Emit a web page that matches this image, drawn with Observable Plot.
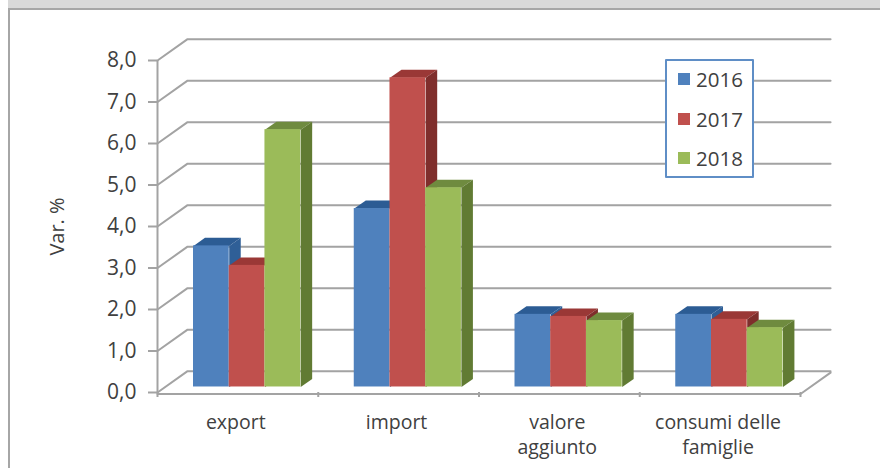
<!DOCTYPE html>
<html lang="it">
<head>
<meta charset="utf-8">
<script src="https://cdn.jsdelivr.net/npm/d3@7"></script>
<script src="https://cdn.jsdelivr.net/npm/@observablehq/plot@0.6"></script>
<style>
  html, body { margin: 0; padding: 0; background: #fff; }
  body { position: relative; width: 880px; height: 468px; overflow: hidden; font-family: "Open Sans", sans-serif; }
  #band { position: absolute; left: 8px; right: 0; top: 0; height: 8px; background: #d9d9d9; }
  #frame { position: absolute; left: 8px; right: -4px; top: 8px; bottom: -4px; border: 2px solid #a6a6a6; box-sizing: border-box; }
  #chart { position: absolute; left: 0; top: 0; }
  #legend { position: absolute; left: 665px; top: 59px; width: 89px; height: 119px; box-sizing: border-box; background: #fff; border: 2px solid #5f8ec6; border-radius: 1px; }
  .entry { position: absolute; left: 11px; display: flex; align-items: center; height: 24px; color: #404040; font-size: 20.5px; }
  .entry i { display: block; width: 12px; height: 12px; margin-right: 6px; }
</style>
</head>
<body>
<div id="band"></div>
<div id="frame"></div>
<div id="chart"></div>
<div id="legend"></div>
<script>
const categories = ["export", "import", "valore\naggiunto", "consumi delle\nfamiglie"];
const years = [2016, 2017, 2018];
const values2016 = [3.4, 4.3, 1.75, 1.75];
const values2017 = [2.93, 7.45, 1.7, 1.63];
const values2018 = [6.2, 4.8, 1.6, 1.43];
const seriesValues = [values2016, values2017, values2018];
const frontColors = ["#4f81bd", "#c0504d", "#9bbb59"];
const topColors = ["#2c5c94", "#9a3836", "#6f8b3f"];
const sideColors = ["#2f5f97", "#7f2e2c", "#617b33"];
const yTicks = [0, 1, 2, 3, 4, 5, 6, 7, 8];
const gridColor = "#a3a3a3";
const textColor = "#404040";

// Depth of the chart floor and of the bars, in units of each scale.
const wallDepthX = 0.187, wallDepthY = 0.514;
const barDepthX = 0.0715, barDepthY = 0.193;
const barLift = 0.133, barStart = 0.224, barWidth = 0.2222;

// Back wall: each gridline runs from the axis up to the wall, then across it.
const wallLines = yTicks.flatMap((t) => [
  {t, x: 0, y: t},
  {t, x: wallDepthX, y: t + wallDepthY},
  {t, x: categories.length + wallDepthX, y: t + wallDepthY}
]);
const floorEdge = [
  {x: 0, y: 0},
  {x: categories.length, y: 0},
  {x: categories.length + wallDepthX, y: wallDepthY}
];

const bars = seriesValues.flatMap((values, s) => values.map((v, c) => {
  const x1 = c + barStart + s * barWidth;
  return {series: s, x1, x2: x1 + barWidth, y1: barLift, y2: barLift + v};
}));

// Top and right faces of a bar as closed polygons.
const faces = (b, s) => [
  {id: `t${b.x1}`, fill: topColors[s], x: b.x1, y: b.y2},
  {id: `t${b.x1}`, fill: topColors[s], x: b.x2, y: b.y2},
  {id: `t${b.x1}`, fill: topColors[s], x: b.x2 + barDepthX, y: b.y2 + barDepthY},
  {id: `t${b.x1}`, fill: topColors[s], x: b.x1 + barDepthX, y: b.y2 + barDepthY},
  {id: `s${b.x1}`, fill: sideColors[s], x: b.x2, y: b.y1},
  {id: `s${b.x1}`, fill: sideColors[s], x: b.x2 + barDepthX, y: b.y1 + barDepthY},
  {id: `s${b.x1}`, fill: sideColors[s], x: b.x2 + barDepthX, y: b.y2 + barDepthY},
  {id: `s${b.x1}`, fill: sideColors[s], x: b.x2, y: b.y2}
];

const barMarks = years.flatMap((_, s) => {
  const own = bars.filter((b) => b.series === s);
  return [
    Plot.line(own.flatMap((b) => faces(b, s)), {x: "x", y: "y", z: "id", fill: "fill", stroke: "none", curve: "linear-closed"}),
    Plot.rect(own, {x1: "x1", x2: "x2", y1: "y1", y2: "y2", fill: frontColors[s]})
  ];
});

const chart = Plot.plot({
  width: 880,
  height: 468,
  marginLeft: 157,
  marginRight: 80,
  marginTop: 60,
  marginBottom: 76,
  style: {background: "transparent", fontFamily: "'Open Sans', sans-serif"},
  x: {type: "linear", domain: [0, categories.length], axis: null},
  y: {domain: [0, 8], axis: null},
  color: {type: "identity"},
  marks: [
    Plot.line(wallLines, {x: "x", y: "y", z: "t", stroke: gridColor, strokeWidth: 2}),
    Plot.line(floorEdge, {x: "x", y: "y", stroke: gridColor, strokeWidth: 2, dy: 1.5}),
    Plot.ruleX([0], {y1: 0, y2: 8, stroke: gridColor, strokeWidth: 2}),
    Plot.axisY({
      ticks: yTicks,
      tickFormat: (d) => d.toFixed(1).replace(".", ","),
      tickSize: 9,
      tickPadding: 12,
      stroke: gridColor,
      strokeWidth: 2,
      fill: textColor,
      fontSize: 21,
      label: null
    }),
    Plot.axisX({
      ticks: d3.range(categories.length + 1),
      tickFormat: () => "",
      tickSize: 5,
      stroke: gridColor,
      strokeWidth: 2,
      label: null
    }),
    ...barMarks,
    Plot.text(categories, {
      x: (_, i) => i + 0.487,
      y: 0,
      text: (d) => d,
      dy: 18,
      lineAnchor: "top",
      lineHeight: 1.3,
      fontSize: 19.5,
      fill: textColor
    }),
    Plot.text(["Var. %"], {
      x: 0,
      y: 4,
      text: (d) => d,
      rotate: -90,
      dx: -100,
      fontSize: 20,
      fill: textColor
    })
  ]
});
document.getElementById("chart").append(chart);

// Legend box that sits over the upper right of the plot.
const legend = document.getElementById("legend");
years.forEach((year, i) => {
  const entry = document.createElement("div");
  entry.className = "entry";
  entry.style.top = `${6 + i * 39.5}px`;
  const swatch = document.createElement("i");
  swatch.style.background = frontColors[i];
  entry.append(swatch, String(year));
  legend.append(entry);
});
</script>
</body>
</html>
